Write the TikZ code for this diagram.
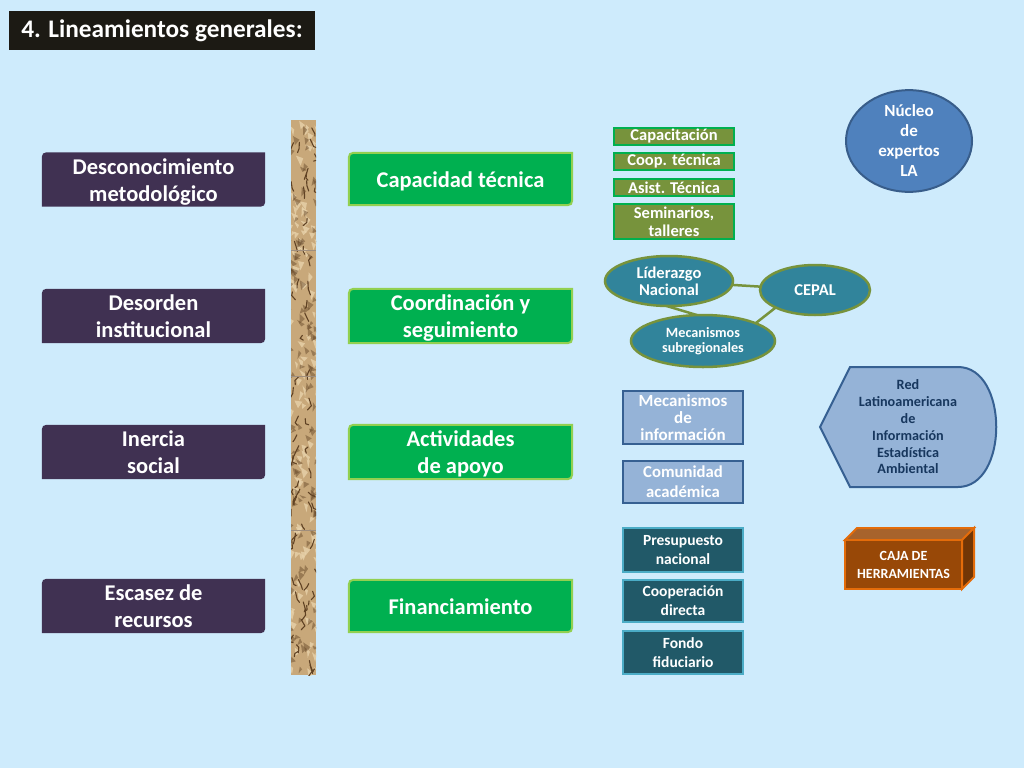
\documentclass[tikz,border=0pt]{standalone}
\usepackage{fontspec}
\setmainfont{Carlito}
\usetikzlibrary{backgrounds,shapes.geometric}

\definecolor{skyback}{RGB}{206,235,252}
\definecolor{titleblack}{RGB}{28,26,20}
\definecolor{leftpurple}{RGB}{64,49,82}
\definecolor{midgreen}{RGB}{0,176,80}
\definecolor{lightgreen}{RGB}{146,208,80}
\definecolor{olivegreen}{RGB}{119,147,60}
\definecolor{tealfill}{RGB}{49,132,155}
\definecolor{nucleoblue}{RGB}{79,129,189}
\definecolor{nucleoedge}{RGB}{56,93,138}
\definecolor{paleblue}{RGB}{149,179,215}
\definecolor{paleedge}{RGB}{54,96,146}
\definecolor{navytext}{RGB}{23,55,94}
\definecolor{darkteal}{RGB}{33,89,104}
\definecolor{tealedge}{RGB}{75,172,198}
\definecolor{boxbrown}{RGB}{152,72,7}
\definecolor{boxorange}{RGB}{228,108,10}
\definecolor{walltan}{RGB}{200,168,122}
\definecolor{wallbrown}{RGB}{96,66,36}
\definecolor{walllight}{RGB}{232,210,170}

% box with two rounded corners (top left, bottom right), drawn behind node #2
\newcommand{\diagshape}[2]{%
  \begin{pgfonlayer}{background}
  \path[#1] ([yshift=-10pt]#2.north west) .. controls (#2.north west) .. ([xshift=10pt]#2.north west)
    -- (#2.north east) -- ([yshift=10pt]#2.south east) .. controls (#2.south east) .. ([xshift=-10pt]#2.south east)
    -- (#2.south west) -- cycle;
  \end{pgfonlayer}}
% text set a little lower in its box
\newcommand{\lowtext}[1]{\raisebox{-3pt}[\height][\depth]{\begin{tabular}{@{}c@{}}#1\end{tabular}}}

\tikzset{
  bigtext/.style={font=\bfseries\fontsize{22.5}{27}\selectfont, text=white, align=center},
  leftbox/.style={bigtext, minimum width=223, minimum height=53, inner sep=0},
  greenbox/.style={bigtext, minimum width=223, minimum height=52, inner sep=0},
  smallgreen/.style={draw=midgreen, line width=1.5, fill=olivegreen, text=white, align=center,
    font=\bfseries\fontsize{16.5}{18}\selectfont, minimum width=120, inner sep=0},
  tealell/.style={ellipse, draw=olivegreen, line width=2.5, fill=tealfill, text=white, align=center, inner sep=0},
  infobox/.style={draw=paleedge, line width=2, fill=paleblue, text=white, align=center,
    font=\bfseries\fontsize{17}{17}\selectfont, minimum width=120, inner sep=0},
  moneybox/.style={draw=tealedge, line width=2, fill=darkteal, text=white, align=center,
    font=\bfseries\fontsize{15.5}{19}\selectfont, minimum width=120, inner sep=0},
  linkline/.style={draw=olivegreen, line width=2.5}
}

\begin{document}
\begin{tikzpicture}[x=1pt, y=-1pt]
\begin{pgfonlayer}{background}
  \fill[skyback] (0,0) rectangle (1024,768);
\end{pgfonlayer}
\useasboundingbox (0,0) rectangle (1024,768);

% title
\node[fill=titleblack, text=white, font=\bfseries\fontsize{25.3}{30}\selectfont,
  minimum width=306, minimum height=39, inner sep=0] (title) at (162,30.5) {4. Lineamientos generales:};

% wall
\begin{scope}
  \clip (291,120) rectangle (316,675);
  \fill[walltan] (291,120) rectangle (316,675);
  \pgfmathsetseed{11}
  \foreach \k in {1,...,120}{
    \pgfmathsetmacro\wx{287+30*rnd}
    \pgfmathsetmacro\wy{116+562*rnd}
    \fill[walllight, opacity=0.8] (\wx,\wy) -- ++(3+5*rnd, 1+4*rnd) -- ++(-1-4*rnd, 3+5*rnd) -- cycle;
  }
  \foreach \k in {1,...,110}{
    \pgfmathsetmacro\wx{287+30*rnd}
    \pgfmathsetmacro\wy{116+562*rnd}
    \fill[wallbrown, opacity=0.45] (\wx,\wy) -- ++(2+6*rnd, 2+3*rnd) -- ++(-3-3*rnd, 1+5*rnd) -- cycle;
  }
  \foreach \k in {1,...,70}{
    \pgfmathsetmacro\wx{289+28*rnd}
    \pgfmathsetmacro\wy{118+560*rnd}
    \draw[wallbrown, line width=1.1, line cap=round, line join=round] (\wx,\wy) -- ++(-4+8*rnd, 2+6*rnd) -- ++(-4+8*rnd, 1+5*rnd);
  }
  \foreach \sy in {250,376,530}
    \draw[wallbrown!60, line width=1] (291,\sy) -- (316,\sy);
\end{scope}

% problems
\node[leftbox] (desc) at (153.5,179.5) {\lowtext{Desconocimiento\\metodológico}};
\diagshape{fill=leftpurple}{desc}
\node[leftbox] (deso) at (153.5,316) {\lowtext{Desorden\\institucional}};
\diagshape{fill=leftpurple}{deso}
\node[leftbox] (iner) at (153.5,452) {\lowtext{Inercia\\social}};
\diagshape{fill=leftpurple}{iner}
\node[leftbox] (esca) at (153.5,606) {\lowtext{Escasez de\\recursos}};
\diagshape{fill=leftpurple}{esca}

% lines of action
\node[greenbox] (capt) at (460.5,179) {\lowtext{Capacidad técnica}};
\diagshape{fill=midgreen, draw=lightgreen, line width=2}{capt}
\node[greenbox] (coor) at (460.5,316) {\lowtext{Coordinación y\\seguimiento}};
\diagshape{fill=midgreen, draw=lightgreen, line width=2}{coor}
\node[greenbox] (acti) at (460.5,452) {\lowtext{Actividades\\de apoyo}};
\diagshape{fill=midgreen, draw=lightgreen, line width=2}{acti}
\node[greenbox] (fina) at (460.5,606) {\lowtext{Financiamiento}};
\diagshape{fill=midgreen, draw=lightgreen, line width=2}{fina}

% capacidad tecnica
\node[smallgreen, minimum height=17] (capa) at (674,136.5) {Capacitación};
\node[smallgreen, minimum height=17] (coop) at (674,161.5) {Coop. técnica};
\node[smallgreen, minimum height=17] (asis) at (674,187.5) {Asist. Técnica};
\node[smallgreen, minimum height=35] (semi) at (674,221.5) {Seminarios,\\talleres};

% coordinacion
\node[tealell, minimum width=128, minimum height=50, font=\bfseries\fontsize{16.5}{17}\selectfont] (lide) at (669,281) {Líderazgo\\Nacional};
\node[tealell, minimum width=110, minimum height=50, font=\bfseries\fontsize{16.5}{17}\selectfont] (cepa) at (815,290) {CEPAL};
\node[tealell, minimum width=144, minimum height=52, font=\bfseries\fontsize{14.2}{15}\selectfont] (meca) at (703,341) {Mecanismos\\subregionales};
\begin{pgfonlayer}{background}
  \draw[linkline] ([xshift=-29pt, yshift=-17pt]lide.center) -- ([xshift=37pt, yshift=13pt]meca.center);
  \draw[linkline] (lide.center) -- (cepa.center);
  \draw[linkline] ([xshift=-17pt]cepa.center) -- ([xshift=30pt]meca.center);
\end{pgfonlayer}

\node[ellipse, draw=nucleoedge, line width=2, fill=nucleoblue, text=white, align=center, inner sep=0,
  minimum width=126, minimum height=88, font=\bfseries\fontsize{17}{20}\selectfont] (nucl) at (909,141) {Núcleo\\de\\expertos\\LA};

% actividades de apoyo
\node[infobox, minimum height=53] (minf) at (683,417.5) {Mecanismos\\de\\información};
\node[infobox, minimum height=42, font=\bfseries\fontsize{16.7}{20}\selectfont] (comu) at (683,482) {Comunidad\\académica};

\draw[draw=paleedge, line width=2, fill=paleblue] (850,367) -- (958,367)
  .. controls (1009,367) and (1009,487) .. (958,487) -- (850,487) -- (820,427) -- cycle;
\node[text=navytext, align=center, font=\bfseries\fontsize{14.2}{16.8}\selectfont] (redl) at (908,427)
  {Red\\Latinoamericana\\de\\Información\\Estadística\\Ambiental};

% financiamiento
\node[moneybox, minimum height=44] (pres) at (683,550) {Presupuesto\\nacional};
\node[moneybox, minimum height=42] (copd) at (683,601) {Cooperación\\directa};
\node[moneybox, minimum height=43] (fond) at (683,652.5) {Fondo\\fiduciario};

% caja
\draw[draw=boxorange, line width=2, fill=boxbrown!85!white] (845,540) -- (857,528) -- (974,528) -- (962,540) -- cycle;
\draw[draw=boxorange, line width=2, fill=boxbrown!75!black] (962,540) -- (974,528) -- (974,577) -- (962,589) -- cycle;
\draw[draw=boxorange, line width=2, fill=boxbrown] (845,540) rectangle (962,589);
\node[text=white, align=center, font=\bfseries\fontsize{14}{18}\selectfont] (caja) at (903.5,564.5) {CAJA DE\\HERRAMIENTAS};
\end{tikzpicture}
\end{document}
